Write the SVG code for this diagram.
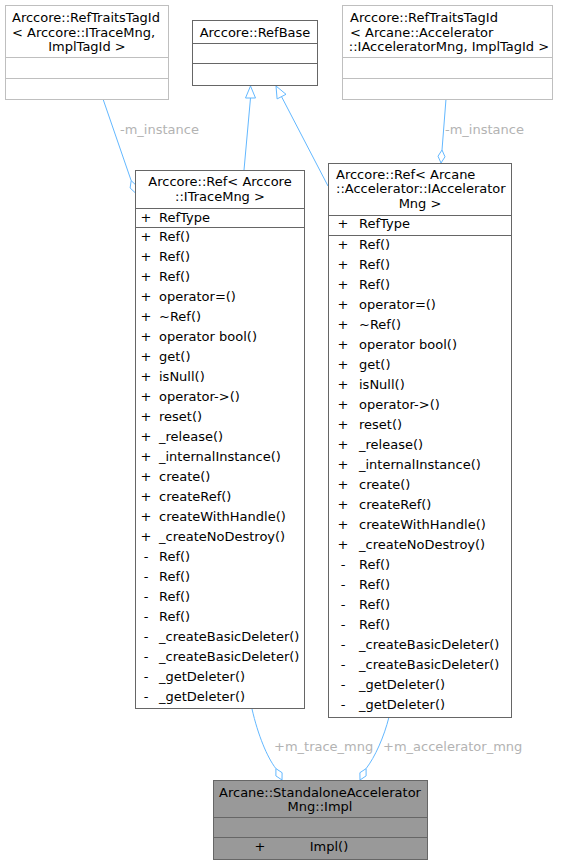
<svg xmlns="http://www.w3.org/2000/svg" width="562" height="865" viewBox="0 0 562 865">
  <style>
    text { font-family: "DejaVu Sans", "Liberation Sans", sans-serif; font-size: 13px; fill: #000; }
    .c { text-anchor: middle; }
    .box { fill: #fff; stroke: #666; stroke-width: 1; }
    .ext { fill: #fff; stroke: #bfbfbf; stroke-width: 1; }
    .sep { stroke: #666; stroke-width: 1; }
    .esep { stroke: #bfbfbf; stroke-width: 1; }
    .main { fill: #999; stroke: #666; stroke-width: 1; }
    .edge { fill: none; stroke: #63b8ff; stroke-width: 1; }
    .head { fill: #fff; stroke: #63b8ff; stroke-width: 1; }
    .lbl { fill: #b3b3b3; }
  </style>

  <!-- connectors -->
  <g id="edges">
    <!-- m_instance (ITraceMng traits) -->
    <path class="edge" d="M103,99 L131.2,180.7"/>
    <polygon class="head" points="135.5,193 136.7,185.8 131.2,180.7 130.1,188"/>
    <text class="lbl" x="120" y="134">-m_instance</text>

    <!-- inheritance Ref<ITraceMng> -> RefBase -->
    <path class="edge" d="M244,170 L250.5,98"/>
    <polygon class="head" points="250.5,86 245.5,98 255.5,98"/>

    <!-- inheritance Ref<IAcceleratorMng> -> RefBase -->
    <path class="edge" d="M328,186 L281.5,96.6"/>
    <polygon class="head" points="276,86 286,94.3 277.1,98.9"/>

    <!-- m_instance (IAcceleratorMng traits) -->
    <path class="edge" d="M446,99 L442,150"/>
    <polygon class="head" points="441,163 445,156.8 442,150 438,156.2"/>
    <text class="lbl" x="445" y="134">-m_instance</text>

    <!-- m_trace_mng -->
    <path class="edge" d="M252,709 C258,735 267,757 275.9,768.6"/>
    <polygon class="head" points="282,780 282.1,772.7 275.9,768.6 275.9,775.9"/>
    <text class="lbl" x="274" y="751">+m_trace_mng</text>

    <!-- m_accelerator_mng -->
    <path class="edge" d="M389,717 C384,737 375,757 366.1,768.6"/>
    <polygon class="head" points="360,780 359.9,772.7 366.1,768.6 366.1,775.9"/>
    <text class="lbl" x="383" y="751">+m_accelerator_mng</text>
  </g>

  <!-- RefTraitsTagId< ITraceMng > -->
  <g id="traits_trace">
    <rect class="ext" x="5.5" y="5.5" width="163" height="94"/>
    <text x="12" y="22">Arccore::RefTraitsTagId</text>
    <text x="12" y="36.5">&lt; Arccore::ITraceMng,</text>
    <text class="c" x="87" y="51">ImplTagId &gt;</text>
    <line class="esep" x1="5.5" y1="57.5" x2="168.5" y2="57.5"/>
    <line class="esep" x1="5.5" y1="78.5" x2="168.5" y2="78.5"/>
  </g>

  <!-- RefBase -->
  <g id="refbase">
    <rect class="box" x="192.5" y="20.5" width="125" height="65"/>
    <text class="c" x="255" y="36.5">Arccore::RefBase</text>
    <line class="sep" x1="192.5" y1="43.5" x2="317.5" y2="43.5"/>
    <line class="sep" x1="192.5" y1="63.5" x2="317.5" y2="63.5"/>
  </g>

  <!-- RefTraitsTagId< IAcceleratorMng > -->
  <g id="traits_accel">
    <rect class="ext" x="342.5" y="5.5" width="210" height="94"/>
    <text x="350" y="22">Arccore::RefTraitsTagId</text>
    <text x="350" y="36.5">&lt; Arcane::Accelerator</text>
    <text class="c" x="449" y="51">::IAcceleratorMng, ImplTagId &gt;</text>
    <line class="esep" x1="342.5" y1="57.5" x2="552.5" y2="57.5"/>
    <line class="esep" x1="342.5" y1="78.5" x2="552.5" y2="78.5"/>
  </g>

  <!-- Ref< ITraceMng > -->
  <g id="ref_trace">
    <rect class="box" x="135.5" y="170.5" width="169" height="538"/>
    <text class="c" x="220" y="186">Arccore::Ref&lt; Arccore</text>
    <text class="c" x="220" y="200.5">::ITraceMng &gt;</text>
    <line class="sep" x1="135.5" y1="208.5" x2="304.5" y2="208.5"/>
    <text class="c" x="146" y="221.5">+</text>
    <text x="159" y="221.5">RefType</text>
    <line class="sep" x1="135.5" y1="227.5" x2="304.5" y2="227.5"/>
    <g transform="translate(0,241)">
      <text class="c" x="146" y="0">+</text><text x="159" y="0">Ref()</text>
      <text class="c" x="146" y="20">+</text><text x="159" y="20">Ref()</text>
      <text class="c" x="146" y="40">+</text><text x="159" y="40">Ref()</text>
      <text class="c" x="146" y="60">+</text><text x="159" y="60">operator=()</text>
      <text class="c" x="146" y="80">+</text><text x="159" y="80">~Ref()</text>
      <text class="c" x="146" y="100">+</text><text x="159" y="100">operator bool()</text>
      <text class="c" x="146" y="120">+</text><text x="159" y="120">get()</text>
      <text class="c" x="146" y="140">+</text><text x="159" y="140">isNull()</text>
      <text class="c" x="146" y="160">+</text><text x="159" y="160">operator-&gt;()</text>
      <text class="c" x="146" y="180">+</text><text x="159" y="180">reset()</text>
      <text class="c" x="146" y="200">+</text><text x="159" y="200">_release()</text>
      <text class="c" x="146" y="220">+</text><text x="159" y="220">_internalInstance()</text>
      <text class="c" x="146" y="240">+</text><text x="159" y="240">create()</text>
      <text class="c" x="146" y="260">+</text><text x="159" y="260">createRef()</text>
      <text class="c" x="146" y="280">+</text><text x="159" y="280">createWithHandle()</text>
      <text class="c" x="146" y="300">+</text><text x="159" y="300">_createNoDestroy()</text>
      <text class="c" x="146" y="320">-</text><text x="159" y="320">Ref()</text>
      <text class="c" x="146" y="340">-</text><text x="159" y="340">Ref()</text>
      <text class="c" x="146" y="360">-</text><text x="159" y="360">Ref()</text>
      <text class="c" x="146" y="380">-</text><text x="159" y="380">Ref()</text>
      <text class="c" x="146" y="400">-</text><text x="159" y="400">_createBasicDeleter()</text>
      <text class="c" x="146" y="420">-</text><text x="159" y="420">_createBasicDeleter()</text>
      <text class="c" x="146" y="440">-</text><text x="159" y="440">_getDeleter()</text>
      <text class="c" x="146" y="460">-</text><text x="159" y="460">_getDeleter()</text>
    </g>
  </g>

  <!-- Ref< IAcceleratorMng > -->
  <g id="ref_accel">
    <rect class="box" x="328.5" y="163.5" width="183" height="554"/>
    <text x="336" y="178.5">Arccore::Ref&lt; Arcane</text>
    <text x="336" y="193">::Accelerator::IAccelerator</text>
    <text class="c" x="420" y="207.5">Mng &gt;</text>
    <line class="sep" x1="328.5" y1="215.5" x2="511.5" y2="215.5"/>
    <text class="c" x="343" y="228">+</text>
    <text x="359" y="228">RefType</text>
    <line class="sep" x1="328.5" y1="235.5" x2="511.5" y2="235.5"/>
    <g transform="translate(0,248.5)">
      <text class="c" x="343" y="0">+</text><text x="359" y="0">Ref()</text>
      <text class="c" x="343" y="20">+</text><text x="359" y="20">Ref()</text>
      <text class="c" x="343" y="40">+</text><text x="359" y="40">Ref()</text>
      <text class="c" x="343" y="60">+</text><text x="359" y="60">operator=()</text>
      <text class="c" x="343" y="80">+</text><text x="359" y="80">~Ref()</text>
      <text class="c" x="343" y="100">+</text><text x="359" y="100">operator bool()</text>
      <text class="c" x="343" y="120">+</text><text x="359" y="120">get()</text>
      <text class="c" x="343" y="140">+</text><text x="359" y="140">isNull()</text>
      <text class="c" x="343" y="160">+</text><text x="359" y="160">operator-&gt;()</text>
      <text class="c" x="343" y="180">+</text><text x="359" y="180">reset()</text>
      <text class="c" x="343" y="200">+</text><text x="359" y="200">_release()</text>
      <text class="c" x="343" y="220">+</text><text x="359" y="220">_internalInstance()</text>
      <text class="c" x="343" y="240">+</text><text x="359" y="240">create()</text>
      <text class="c" x="343" y="260">+</text><text x="359" y="260">createRef()</text>
      <text class="c" x="343" y="280">+</text><text x="359" y="280">createWithHandle()</text>
      <text class="c" x="343" y="300">+</text><text x="359" y="300">_createNoDestroy()</text>
      <text class="c" x="343" y="320">-</text><text x="359" y="320">Ref()</text>
      <text class="c" x="343" y="340">-</text><text x="359" y="340">Ref()</text>
      <text class="c" x="343" y="360">-</text><text x="359" y="360">Ref()</text>
      <text class="c" x="343" y="380">-</text><text x="359" y="380">Ref()</text>
      <text class="c" x="343" y="400">-</text><text x="359" y="400">_createBasicDeleter()</text>
      <text class="c" x="343" y="420">-</text><text x="359" y="420">_createBasicDeleter()</text>
      <text class="c" x="343" y="440">-</text><text x="359" y="440">_getDeleter()</text>
      <text class="c" x="343" y="460">-</text><text x="359" y="460">_getDeleter()</text>
    </g>
  </g>

  <!-- StandaloneAcceleratorMng::Impl -->
  <g id="impl">
    <rect class="main" x="213.5" y="780.5" width="214" height="79"/>
    <text class="c" x="320" y="796.5">Arcane::StandaloneAccelerator</text>
    <text class="c" x="320" y="810.5">Mng::Impl</text>
    <line class="sep" x1="213.5" y1="817.5" x2="427.5" y2="817.5"/>
    <line class="sep" x1="213.5" y1="837.5" x2="427.5" y2="837.5"/>
    <text class="c" x="260" y="850.5">+</text>
    <text class="c" x="329" y="850.5">Impl()</text>
  </g>
</svg>
